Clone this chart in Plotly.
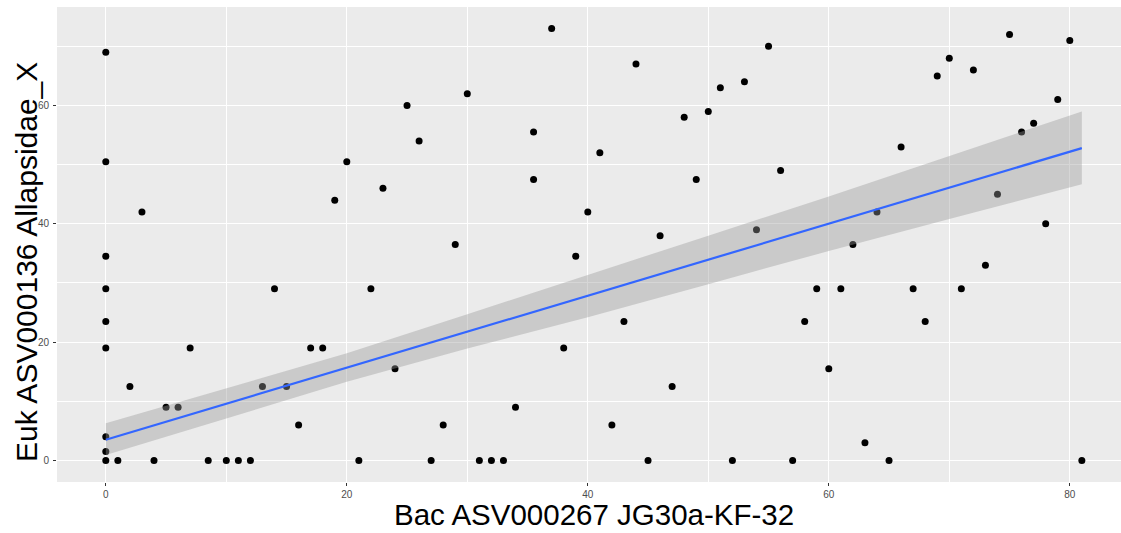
import plotly.graph_objects as go

# Scatter data
x_vals = [0, 0, 0, 0, 0, 0, 0, 0, 0,
          1, 2, 3, 4, 5, 6, 7, 8.5, 10, 11, 12, 13, 14, 15, 16, 17, 18, 19, 20,
          21, 22, 23, 24, 25, 26, 27, 28, 29, 30, 31, 32, 33, 34, 35.5, 35.5, 37,
          38, 39, 40, 41, 42, 43, 44, 45, 46, 47, 48, 49, 50, 51, 52, 53, 54, 55,
          56, 57, 58, 59, 60, 61, 62, 63, 64, 65, 66, 67, 68, 69, 70, 71, 72, 73,
          74, 75, 76, 77, 78, 79, 80, 81]
y_vals = [69, 50.5, 34.5, 29, 23.5, 19, 4, 1.5, 0,
          0, 12.5, 42, 0, 9, 9, 19, 0, 0, 0, 0, 12.5, 29, 12.5, 6, 19, 19, 44, 50.5,
          0, 29, 46, 15.5, 60, 54, 0, 6, 36.5, 62, 0, 0, 0, 9, 55.5, 47.5, 73,
          19, 34.5, 42, 52, 6, 23.5, 67, 0, 38, 12.5, 58, 47.5, 59, 63, 0, 64, 39, 70,
          49, 0, 23.5, 29, 15.5, 29, 36.5, 3, 42, 0, 53, 29, 23.5, 65, 68, 29, 66, 33,
          45, 72, 55.5, 57, 40, 61, 71, 0]

# Smoother (line and confidence band)
fit_x = [0, 10, 20, 30, 40, 50, 60, 70, 81]
fit_y = [3.5, 9.6, 15.7, 21.8, 27.9, 33.9, 40.0, 46.1, 52.8]
fit_lo = [0.9, 7.05, 13.3, 18.9, 24.2, 29.8, 35.4, 40.8, 46.7]
fit_hi = [6.3, 12.15, 18.1, 24.7, 31.4, 38.0, 44.6, 51.5, 59.0]

x_title = "Bac ASV000267 JG30a-KF-32"
y_title = "Euk ASV000136 Allapsidae_X"

fig = go.Figure()
fig.add_trace(go.Scatter(x=x_vals, y=y_vals, mode="markers",
                         marker=dict(color="black", size=7), showlegend=False,
                         hoverinfo="x+y"))
fig.add_trace(go.Scatter(x=fit_x, y=fit_lo, mode="lines", line=dict(width=0),
                         showlegend=False, hoverinfo="skip"))
fig.add_trace(go.Scatter(x=fit_x, y=fit_hi, mode="lines", line=dict(width=0),
                         fill="tonexty", fillcolor="rgba(153,153,153,0.4)",
                         showlegend=False, hoverinfo="skip"))
fig.add_trace(go.Scatter(x=fit_x, y=fit_y, mode="lines",
                         line=dict(color="#3366FF", width=2.2), showlegend=False))

axis_common = dict(
    showgrid=True, gridcolor="white", gridwidth=1.1, zeroline=False,
    showline=False, ticks="outside", ticklen=3, tickwidth=1, tickcolor="#333333",
    tickfont=dict(family="Arial, Liberation Sans, sans-serif", size=10, color="#4D4D4D"),
)

PL, PW, PT, PH = 57, 1064, 7, 475

fig.update_layout(
    width=1121, height=533,
    margin=dict(l=PL, r=0, t=PT, b=533 - PT - PH, pad=0),
    plot_bgcolor="#EBEBEB", paper_bgcolor="white",
    font=dict(family="Arial, Liberation Sans, sans-serif"),
    xaxis=dict(range=[-4.05, 84.25], tickmode="array", tickvals=[0, 20, 40, 60, 80],
               ticklabelstandoff=0,
               minor=dict(tickvals=[10, 30, 50, 70], showgrid=True, gridcolor="white",
                          gridwidth=0.55, ticks=""),
               **axis_common),
    yaxis=dict(range=[-3.65, 76.65], tickmode="array", tickvals=[0, 20, 40, 60],
               ticklabelstandoff=2,
               minor=dict(tickvals=[10, 30, 50, 70], showgrid=True, gridcolor="white",
                          gridwidth=0.55, ticks=""),
               **axis_common),
    annotations=[
        dict(text=x_title, xref="paper", yref="paper", x=(594 - PL) / PW,
             y=-(514 - (PT + PH)) / PH,
             xanchor="center", yanchor="middle", showarrow=False,
             font=dict(size=29.5, color="black")),
        dict(text=y_title, xref="paper", yref="paper", x=(26 - PL) / PW,
             y=(PT + PH - 262) / PH,
             xanchor="center", yanchor="middle", textangle=-90, showarrow=False,
             font=dict(size=30, color="black")),
    ],
)

fig.write_html("out.html", config={"displayModeBar": False},
               post_script="document.body.style.margin='0';")
